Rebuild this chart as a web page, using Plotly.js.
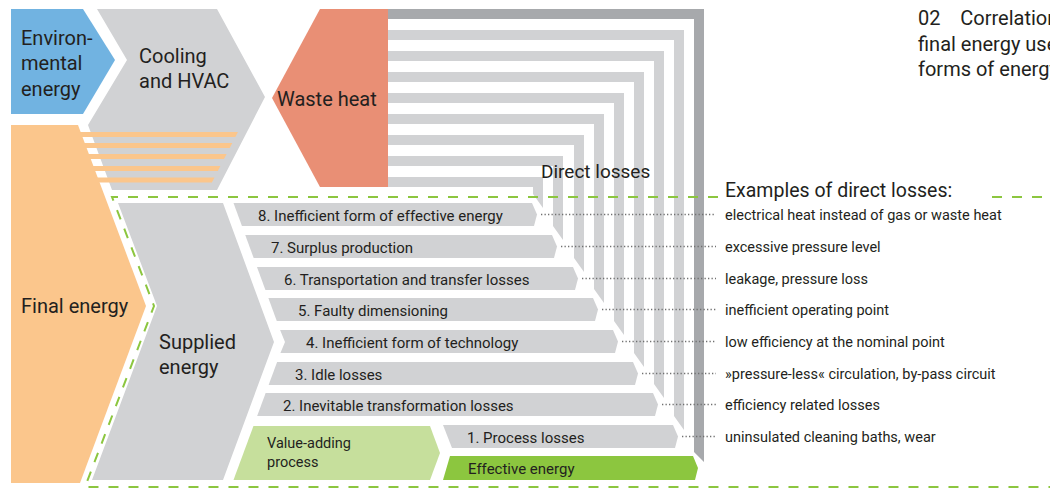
<!DOCTYPE html>
<html>
<head>
<meta charset="utf-8">
<script src="https://cdn.plot.ly/plotly-3.0.1.min.js"></script>
<style>html,body{margin:0;padding:0;background:#fff;}#chart{width:1050px;height:489px;}</style>
</head>
<body>
<div id="chart"></div>
<script>
// ---------- data ----------
const lossLabels = [
  "8. Inefficient form of effective energy",
  "7. Surplus production",
  "6. Transportation and transfer losses",
  "5. Faulty dimensioning",
  "4. Inefficient form of technology",
  "3. Idle losses",
  "2. Inevitable transformation losses",
  "1. Process losses"
];
const exampleLabels = [
  "electrical heat instead of gas or waste heat",
  "excessive pressure level",
  "leakage, pressure loss",
  "inefficient operating point",
  "low efficiency at the nominal point",
  "\u00bbpressure-less\u00ab circulation, by-pass circuit",
  "efficiency related losses",
  "uninsulated cleaning baths, wear"
];
const sourceLabels = ["Environ-", "mental", "energy"];
const coolingLabels = ["Cooling", "and HVAC"];
const wasteLabel = "Waste heat";
const finalLabel = "Final energy";
const suppliedLabels = ["Supplied", "energy"];
const valueLabels = ["Value-adding", "process"];
const effectiveLabel = "Effective energy";
const directLabel = "Direct losses";
const examplesTitle = "Examples of direct losses:";
const captionLines = ["02\u00a0\u00a0\u00a0\u00a0Correlation", "final energy use", "forms of energy"];

// ---------- styling ----------
const C = {
  blue: "#71B3E1", gray: "#D1D2D4", dark: "#A7A9AC", orange: "#FBC68C",
  waste: "#E98F75", lightGreen: "#C6DF9C", green: "#8CC63F", text: "#231F20",
  dots: "#707070"
};
const FONT = "Roboto, 'Open Sans', sans-serif";

const shapes = [];
const annotations = [];
function poly(pts, fill) {
  shapes.push({type: "path", xref: "x", yref: "y", layer: "above",
    path: "M" + pts.map(p => p[0] + "," + p[1]).join("L") + "Z",
    fillcolor: fill, line: {width: 0}});
}
function line(pts, color, width, dash) {
  shapes.push({type: "path", xref: "x", yref: "y", layer: "above",
    path: "M" + pts.map(p => p[0] + "," + p[1]).join("L"),
    line: {color: color, width: width, dash: dash}});
}
function txt(x, y, text, size) {
  annotations.push({x: x, y: y, xref: "x", yref: "y", text: text, showarrow: false,
    xanchor: "left", yanchor: "middle", borderpad: 0,
    font: {family: FONT, size: size, color: C.text}});
}

// ---------- geometry ----------
// source blocks
poly([[11,9],[83,9],[115,60],[83,114],[11,114]], C.blue);
poly([[97,9],[217,9],[265,97],[217,190],[112,190],[88,125],[127,60]], C.gray);
poly([[11,125],[78,125],[146,306],[80,483],[11,483]], C.orange);
// orange stripes into cooling
const grayRX = y => 265 - (y - 97) * 48 / 93;
[132, 143, 154, 166, 177.5].forEach(yt => {
  poly([[70,yt],[grayRX(yt)-9,yt],[grayRX(yt+5)-9,yt+5],[70,yt+5]], C.orange);
});
poly([[320,9],[388,9],[388,187],[320,187],[272,98]], C.waste);

// supplied energy chevron
poly([[118,203],[223,203],[274,342],[223,480],[92,480],[157,306]], C.gray);
const chevX = y => y <= 342 ? 223 + (y - 203) * 51 / 139 : 274 - (y - 342) * 51 / 138;
const leftX = y => chevX(y) + 10.5;

// loss rows (top to bottom: 8..1)
const rowTop = [203, 235, 267, 298, 330, 362, 393, 425];
const rowH = 23;
const vxs = [533, 553, 574, 594, 614, 634, 654, 674];
const hTop = [177, 156, 135, 114, 93, 72, 51, 30];

// outer dark frame (effective energy return)
poly([[388,9],[704,9],[704,462],[694,452],[694,19],[388,19]], C.dark);

for (let i = 0; i < lossLabels.length; i++) {
  const t = rowTop[i], b = t + rowH, m = t + rowH / 2, vx = vxs[i], ht = hTop[i];
  // L-shaped return channel to waste heat
  poly([[388,ht],[vx+10,ht],[vx+10,t+5],[vx,t-9],[vx,ht+10],[388,ht+10]], C.gray);
  // loss arrow
  let left;
  if (i < 7) {
    if (t < 342 && b > 342) left = [[leftX(b), b], [285, 342], [leftX(t), t]];
    else left = [[leftX(b), b], [leftX(t), t]];
  } else {
    left = [[452, b], [443, t]];
  }
  poly([...left, [vx-1, t], [vx+4, m], [vx+1, b]], C.gray);
}

// value-adding process & effective energy
poly([[leftX(426),426],[430,426],[440,453],[430,480],[leftX(480),480]], C.lightGreen);
poly([[450,456],[693,456],[698,468],[695,480],[443,480]], C.green);

// dotted leader lines
for (let i = 0; i < lossLabels.length; i++) {
  const m = rowTop[i] + rowH / 2;
  line([[vxs[i] + 8, m], [716, m]], C.dots, 1.3, "1.3px,2.2px");
}

// dashed system boundary
line([[718,197],[112,197],[154,306],[85,487],[1050,487]], C.green, 2, "10px,10px");
line([[992,197],[1050,197]], C.green, 2, "10px,10px");

// ---------- text ----------
txt(20, 38, sourceLabels[0], 20);
txt(20, 63, sourceLabels[1], 20);
txt(20, 89, sourceLabels[2], 20);
txt(138, 56, coolingLabels[0], 20);
txt(138, 81, coolingLabels[1], 20);
txt(276, 99, wasteLabel, 20);
txt(20, 306, finalLabel, 20);
txt(158, 342, suppliedLabels[0], 20);
txt(158, 367, suppliedLabels[1], 20);
txt(540, 171, directLabel, 19);
txt(724, 190, examplesTitle, 19.5);
const lossTextX = [257, 270, 283, 297, 305, 294, 282, 466];
for (let i = 0; i < lossLabels.length; i++) {
  txt(lossTextX[i], rowTop[i] + rowH / 2 + 1, lossLabels[i], 15);
  txt(724, rowTop[i] + rowH / 2 + 1, exampleLabels[i], 14.5);
}
txt(266, 443, valueLabels[0], 14.5);
txt(266, 462, valueLabels[1], 14.5);
txt(467, 469, effectiveLabel, 15);
captionLines.forEach((s, k) => txt(917, [18, 44, 69][k], s, 20));

const layout = {
  width: 1050, height: 489,
  margin: {l: 0, r: 0, t: 0, b: 0},
  paper_bgcolor: "#fff", plot_bgcolor: "#fff",
  showlegend: false,
  xaxis: {range: [0, 1050], visible: false, fixedrange: true},
  yaxis: {range: [489, 0], visible: false, fixedrange: true},
  shapes: shapes,
  annotations: annotations
};
Plotly.newPlot("chart", [], layout, {staticPlot: true, displayModeBar: false});
</script>
</body>
</html>
